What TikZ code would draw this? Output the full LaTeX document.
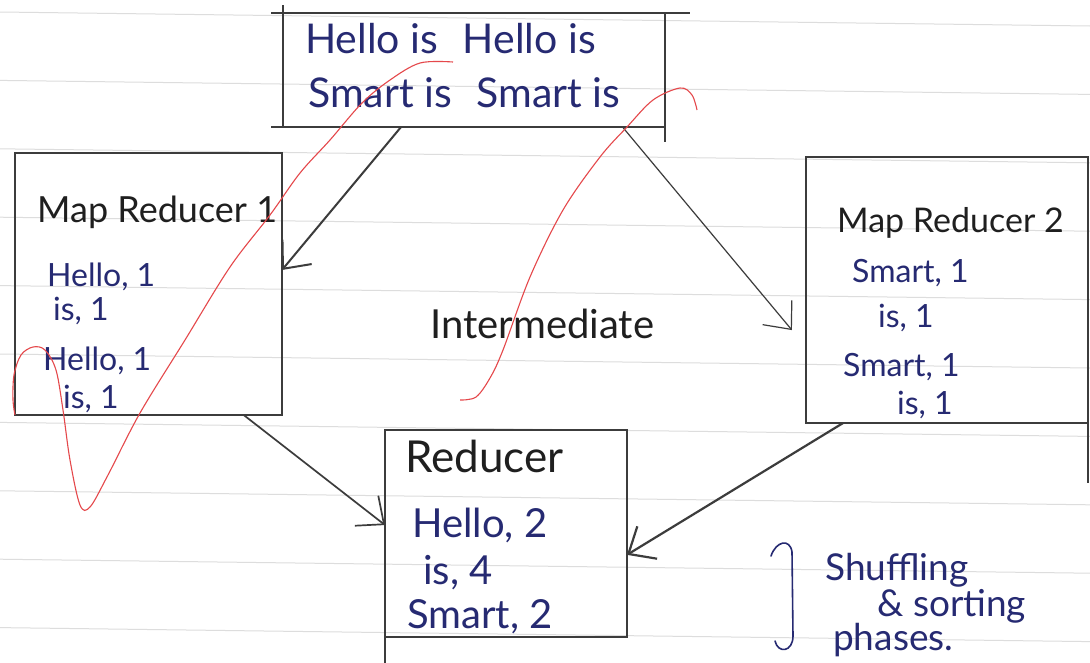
\documentclass[tikz,border=0pt]{standalone}
\usepackage{fontspec}
\setmainfont{Lato}
\usetikzlibrary{arrows.meta}
\definecolor{ink}{HTML}{262A72}
\definecolor{pencil}{HTML}{3C3C3C}
\definecolor{redpen}{HTML}{E5484B}
\definecolor{ruled}{HTML}{DDDDDD}
\begin{document}
\begin{tikzpicture}[x=1pt,y=-1pt,
  box/.style={draw=pencil,line width=1.8pt,inner sep=0pt,outer sep=0pt},
  over/.style={draw=pencil,line width=1.8pt},
  bluetext/.style={text=ink,anchor=base west,inner sep=0pt,font=\fontsize{32}{36}\selectfont},
  toptext/.style={bluetext,font=\fontsize{41}{44}\selectfont},
  redtext/.style={bluetext,font=\fontsize{40}{44}\selectfont},
  shtext/.style={bluetext,font=\fontsize{37}{40}\selectfont},
  titletext/.style={text=black!88,anchor=base west,inner sep=0pt,font=\fontsize{36}{40}\selectfont},
  arr/.style={draw=pencil,line width=2pt,-{Straight Barb[length=22pt,width=38pt]}},
  redline/.style={draw=redpen,line width=1.1pt},
  ruling/.style={draw=ruled,line width=1pt}
]
\useasboundingbox (0,0) rectangle (1090,662);
\clip (0,0) rectangle (1090,662);
\fill[white] (0,0) rectangle (1090,662);

% ruled paper lines
\foreach \k in {0,...,9}{
  \draw[ruling] (0,{12+68.4*\k}) -- (1090,{26+68.4*\k});
}

% boxes
\node[box,minimum width=382pt,minimum height=114pt] (top) at (474,70) {};
\node[box,minimum width=267pt,minimum height=262pt] (mr1) at (148.5,284) {};
\node[box,minimum width=282pt,minimum height=266pt] (mr2) at (947,290) {};
\node[box,minimum width=242pt,minimum height=207pt] (red) at (506,533.5) {};

% hand-drawn overshoots
\draw[over] (top.north west) -- ++(-12,0);
\draw[over] (top.north east) -- ++(25,0);
\draw[over] (top.north west) -- ++(0,-8);
\draw[over] (top.south east) -- ++(0,15);
\draw[over] (top.south west) -- ++(-12,0);
\draw[over] (mr2.south east) -- ++(0,60);
\draw[over] (red.south west) -- ++(0,30);

% texts
\node[toptext] (t1) at (305,53) {Hello is\hspace{0.6em}Hello is};
\node[toptext] (t2) at (308,107) {Smart is\hspace{0.6em}Smart is};

\node[titletext] (m1title) at (37,222) {Map Reducer 1};
\node[bluetext] (m1a) at (47,286) {Hello, 1};
\node[bluetext] (m1b) at (53,320) {is, 1};
\node[bluetext] (m1c) at (43,370) {Hello, 1};
\node[bluetext] (m1d) at (63,408) {is, 1};

\node[titletext,font=\fontsize{34}{38}\selectfont] (m2title) at (837,232) {Map Reducer 2};
\node[bluetext] (m2a) at (852,282) {Smart, 1};
\node[bluetext] (m2b) at (878,327) {is, 1};
\node[bluetext] (m2c) at (843,376) {Smart, 1};
\node[bluetext] (m2d) at (897,414) {is, 1};

\node[titletext,font=\fontsize{44}{48}\selectfont] (rtitle) at (405,472) {Reducer};
\node[redtext] (ra) at (412,537) {Hello, 2};
\node[redtext] (rb) at (423,584) {is, 4};
\node[redtext] (rc) at (407,628) {Smart, 2};

\node[titletext,font=\fontsize{40}{44}\selectfont] (inter) at (430,338) {Intermediate};

\node[shtext] (s1) at (825,580) {Shuffling};
\node[shtext] (s2) at (877,616) {\& sorting};
\node[shtext] (s3) at (833,650) {phases.};

% brace
\draw[ink,line width=1.6pt,line cap=round]
  (771,556) .. controls (776,541) and (790,538) .. (792,552)
  -- (793,636) .. controls (793,652) and (778,654) .. (775,641);

% arrows
\draw[arr] (top.218.6) -- (mr1.6.8);
\draw[arr,line width=1.2pt,shorten >=22pt] (top.-21) -- (mr2.202);
\draw[arr,line width=1.7pt] (mr1.-54.2) -- (red.176);
\draw[arr,line width=2.2pt] (mr2.-128) -- (red.-10.1);

% red pen curves
\draw[redline] plot[smooth,tension=0.55] coordinates {
  (453,62) (420,63) (390,80) (362,103) (330,140) (300,173) (270,215)
  (230,267) (185,340) (140,413) (108,475) (90,507) (80,505) (70,460)
  (63,410) (56,370) (45,350) (33,347) (21,355) (14,375) (13,400) (15,415)};
\draw[redline] plot[smooth,tension=0.55] coordinates {
  (460,400) (476,397) (490,378) (503,350) (530,277) (563,210) (600,157)
  (627,127) (653,100) (680,88) (692,95) (697,110)};
\end{tikzpicture}
\end{document}
